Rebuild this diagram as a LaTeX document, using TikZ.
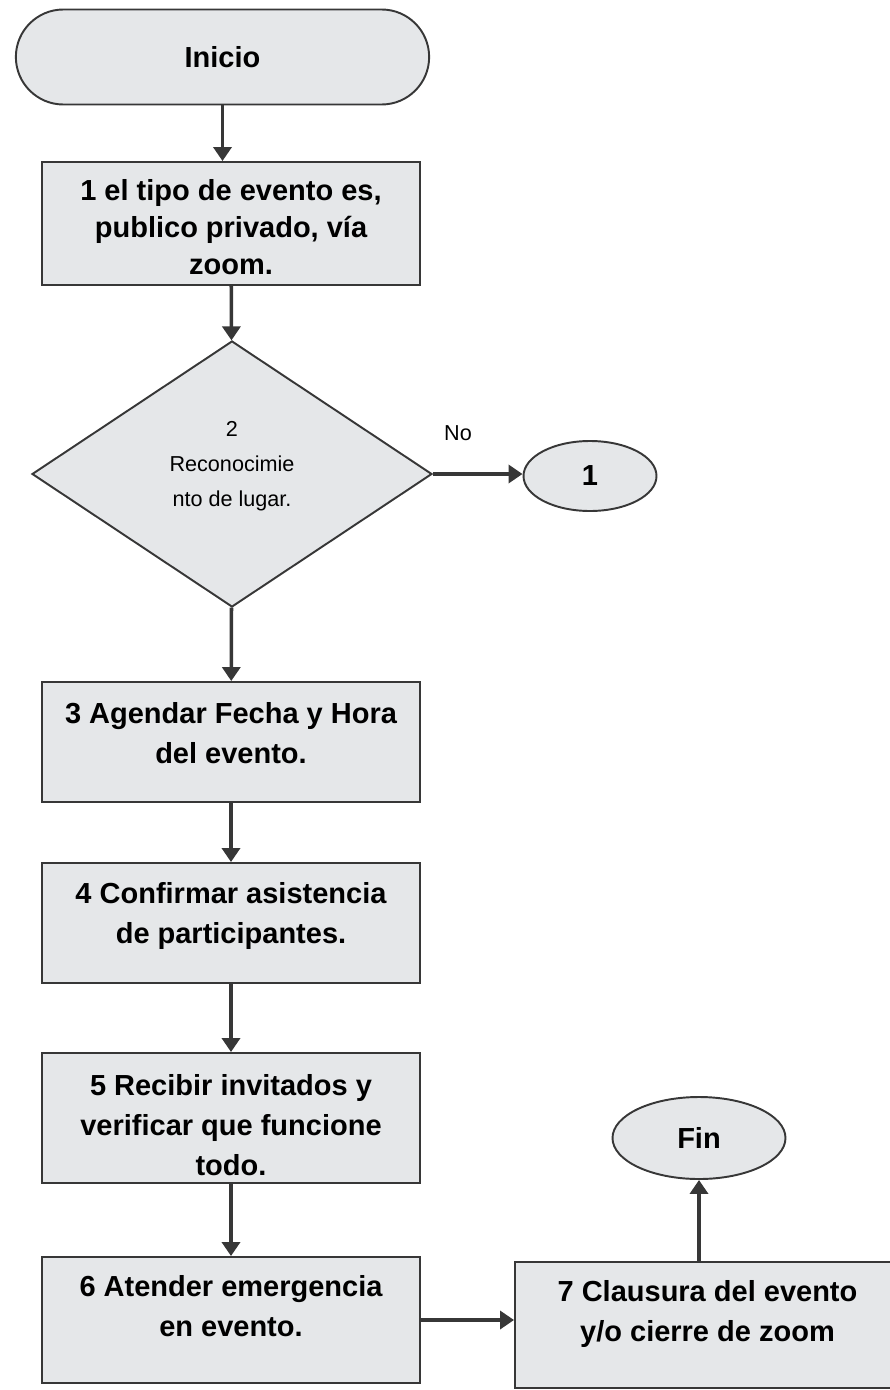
\documentclass[tikz,border=0pt]{standalone}
\usepackage{fontspec}
\setmainfont{Liberation Sans}
\usetikzlibrary{shapes.geometric,shapes.misc,arrows.meta}
\definecolor{cajagris}{RGB}{229,231,233}
\definecolor{trazo}{RGB}{55,55,55}
\begin{document}
\begin{tikzpicture}[
  caja/.style={draw=trazo,fill=cajagris,line width=1.1pt,minimum width=7.56cm,align=center,font=\bfseries\fontsize{16.5}{22.8}\selectfont},
  terminal/.style={caja,rounded rectangle,minimum width=8.5cm,minimum height=1.9cm},
  conector/.style={caja,ellipse,inner sep=0pt},
  rombo/.style={draw=trazo,fill=cajagris,line width=1.1pt,diamond,inner sep=0pt,minimum width=8cm,minimum height=5.32cm,align=center,font=\fontsize{12.3}{19.8}\selectfont},
  flecha/.style={draw=trazo,line width=2pt,-{Triangle[length=0.28cm,width=0.36cm]}}
]
\useasboundingbox (0,0) rectangle (17.78,-27.8);

\node[terminal] (inicio) at (4.45,-1.14) {Inicio};
\node[caja,inner ysep=0pt,minimum height=2.46cm,font=\bfseries\fontsize{16.5}{21}\selectfont] (b1) at (4.62,-4.47) {\rule{0pt}{0.56cm}1 el tipo de evento es,\\publico privado, vía\\zoom.};
\node[rombo] (d2) at (4.64,-9.48) {2\\Reconocimie\\nto de lugar.\rule[-0.41cm]{0pt}{0pt}};
\node[conector,minimum width=2.66cm,minimum height=1.4cm] (c1) at (11.8,-9.52) {1};
\node[font=\fontsize{12.3}{14}\selectfont] (no) at (9.16,-8.66) {No};
\node[caja,minimum height=2.4cm] (b3) at (4.62,-14.84) {3 Agendar Fecha y Hora\\del evento.\rule[-0.36cm]{0pt}{0pt}};
\node[caja,minimum height=2.4cm] (b4) at (4.62,-18.46) {4 Confirmar asistencia\\de participantes.\rule[-0.4cm]{0pt}{0pt}};
\node[caja,inner ysep=0pt,minimum height=2.6cm] (b5) at (4.62,-22.36) {\rule{0pt}{0.7cm}5 Recibir invitados y\\verificar que funcione\\todo.};
\node[caja,minimum height=2.52cm] (b6) at (4.62,-26.4) {6 Atender emergencia\\en evento.\rule[-0.56cm]{0pt}{0pt}};
\node[caja,minimum width=7.7cm,minimum height=2.52cm] (b7) at (14.15,-26.5) {7 Clausura del evento\\y/o cierre de zoom\rule[-0.56cm]{0pt}{0pt}};
\node[conector,minimum width=3.46cm,minimum height=1.64cm] (fin) at (13.98,-22.76) {Fin};

\draw[flecha] (inicio.south) -- (inicio.south |- b1.north);
\draw[flecha] (b1) -- (d2);
\draw[flecha] (d2.east) -- (d2.east -| c1.west);
\draw[flecha] (d2) -- (b3);
\draw[flecha] (b3) -- (b4);
\draw[flecha] (b4) -- (b5);
\draw[flecha] (b5) -- (b6);
\draw[flecha] (b6.east) -- (b6.east -| b7.west);
\draw[flecha] (fin.south |- b7.north) -- (fin.south);

\end{tikzpicture}
\end{document}
